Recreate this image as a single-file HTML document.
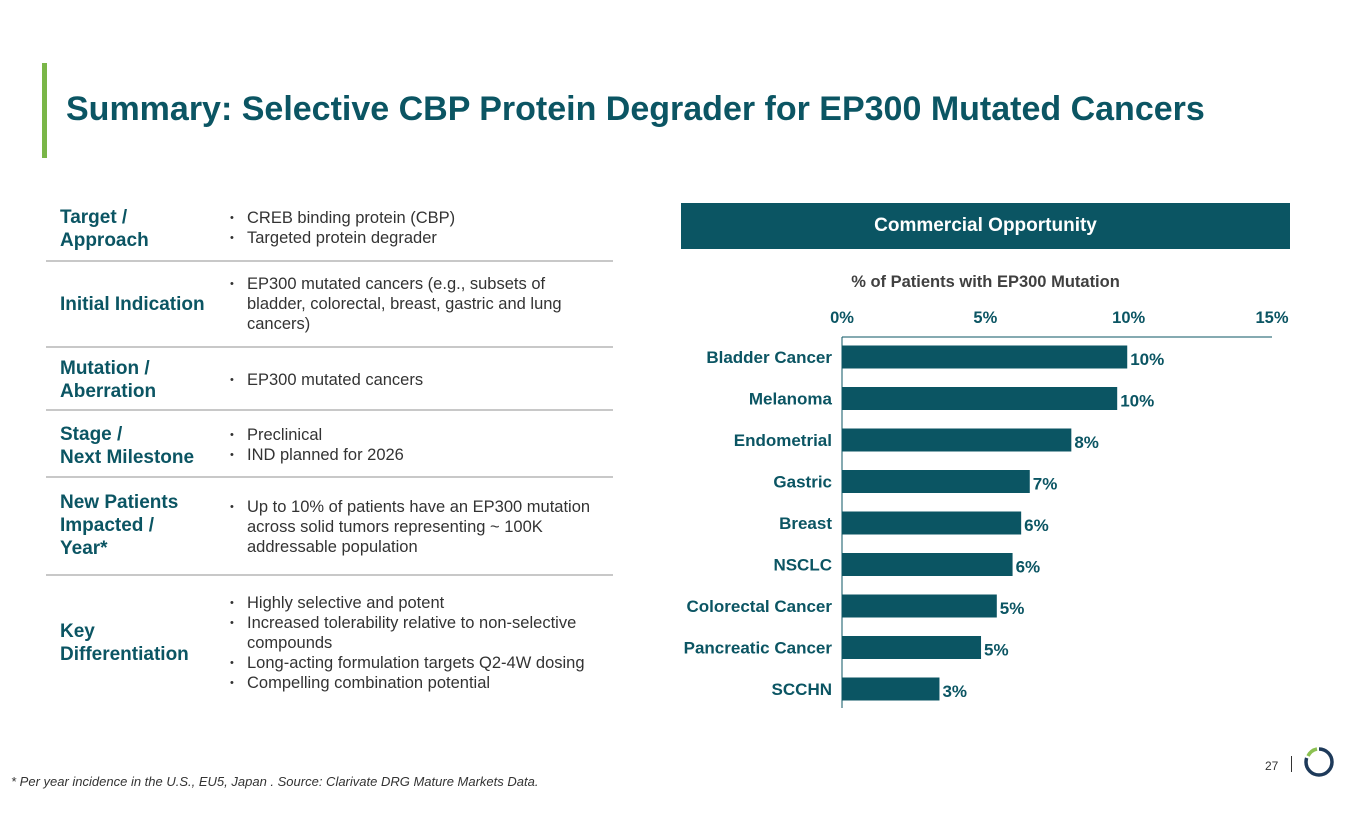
<!DOCTYPE html>
<html><head><meta charset="utf-8"><style>
body{margin:0;width:1365px;height:829px;background:#fff;font-family:"Liberation Sans",Arial,sans-serif;position:relative;overflow:hidden}
.abs{position:absolute}
.title{left:66px;top:90px;font-size:34px;font-weight:bold;color:#0b5563;white-space:nowrap}
.lab{color:#0b5563;font-weight:bold;font-size:19px;line-height:23px;left:60px}
.txt{color:#333;font-size:16.5px;line-height:20px;left:230px;width:375px}
.txt div{padding-left:17px;position:relative}
.txt div:before{content:"•";position:absolute;left:0;font-size:11px}
.sep{left:46px;width:567px;height:2px;background:#c8c8c8}
</style></head><body>
<div class="abs" style="left:42px;top:63px;width:5px;height:95px;background:#7ab648"></div>
<div class="abs title">Summary: Selective CBP Protein Degrader for EP300 Mutated Cancers</div>

<div class="abs lab" style="top:206px">Target /<br>Approach</div>
<div class="abs txt" style="top:208px"><div>CREB binding protein (CBP)</div><div>Targeted protein degrader</div></div>
<div class="abs sep" style="top:260px"></div>
<div class="abs lab" style="top:293px">Initial Indication</div>
<div class="abs txt" style="top:274px;width:345px"><div>EP300 mutated cancers (e.g., subsets of bladder, colorectal, breast, gastric and lung cancers)</div></div>
<div class="abs sep" style="top:346px"></div>
<div class="abs lab" style="top:357px">Mutation /<br>Aberration</div>
<div class="abs txt" style="top:370px"><div>EP300 mutated cancers</div></div>
<div class="abs sep" style="top:409px"></div>
<div class="abs lab" style="top:423px">Stage /<br>Next Milestone</div>
<div class="abs txt" style="top:425px"><div>Preclinical</div><div>IND planned for 2026</div></div>
<div class="abs sep" style="top:476px"></div>
<div class="abs lab" style="top:491px">New Patients<br>Impacted /<br>Year*</div>
<div class="abs txt" style="top:497px"><div>Up to 10% of patients have an EP300 mutation across solid tumors representing ~ 100K addressable population</div></div>
<div class="abs sep" style="top:574px"></div>
<div class="abs lab" style="top:620px">Key<br>Differentiation</div>
<div class="abs txt" style="top:593px;width:365px"><div>Highly selective and potent</div><div>Increased tolerability relative to non-selective compounds</div><div>Long-acting formulation targets Q2-4W dosing</div><div>Compelling combination potential</div></div>

<div class="abs" style="left:681px;top:203px;width:609px;height:46px;background:#0b5563;color:#fff;font-weight:bold;font-size:19px;text-align:center;line-height:46px">Commercial Opportunity</div>
<div class="abs" style="left:681px;width:609px;top:273px;text-align:center;font-weight:bold;font-size:16.5px;color:#404040">% of Patients with EP300 Mutation</div>

<svg class="abs" style="left:0;top:0" width="1365" height="829" id="chart"></svg>

<div class="abs" style="left:11px;top:774px;font-size:13px;font-style:italic;color:#333">* Per year incidence in the U.S., EU5, Japan . Source: Clarivate DRG Mature Markets Data.</div>
<div class="abs" style="left:1265px;top:759px;font-size:12px;color:#333">27</div>
<div class="abs" style="left:1291px;top:756px;width:1px;height:16px;background:#333"></div>
<svg class="abs" style="left:1302px;top:745px" width="34" height="34">
<circle cx="17" cy="17" r="13" fill="none" stroke="#1e3a5a" stroke-width="3.5" stroke-dasharray="65 100" transform="rotate(-90 17 17)"/>
<path d="M6 11 A13 13 0 0 1 15 4" fill="none" stroke="#8cc152" stroke-width="3.5"/>
</svg>

<script>
const categories=["Bladder Cancer","Melanoma","Endometrial","Gastric","Breast","NSCLC","Colorectal Cancer","Pancreatic Cancer","SCCHN"];
const values=[9.95,9.6,8.0,6.55,6.25,5.95,5.4,4.85,3.4];
const valueLabels=["10%","10%","8%","7%","6%","6%","5%","5%","3%"];
const ticks=[0,5,10,15];
const tickLabels=["0%","5%","10%","15%"];
const svg=document.getElementById('chart');
const NS="http://www.w3.org/2000/svg";
const x0=842,x1=1272,max=15;
const xs=v=>x0+(x1-x0)*v/max;
const yTop=337,step=41.5,barH=23;
const yc=i=>yTop+20+i*step;
function mk(t,a){const e=document.createElementNS(NS,t);for(const k in a)e.setAttribute(k,a[k]);svg.appendChild(e);return e;}
ticks.forEach((t,i)=>{const e=mk('text',{x:xs(t),y:323,'text-anchor':'middle','font-size':16.5,'font-weight':'bold',fill:'#0b5563'});e.textContent=tickLabels[i];

});
const ax=mk('line',{x1:x0,y1:yTop,x2:x1,y2:yTop,stroke:'#0b5563','stroke-width':1});


const ay=mk('line',{x1:x0,y1:yTop,x2:x0,y2:708,stroke:'#0b5563','stroke-width':1});


categories.forEach((c,i)=>{
const r=mk('rect',{x:x0,y:yc(i)-barH/2,width:xs(values[i])-x0,height:barH,fill:'#0b5563'});


const l=mk('text',{x:x0-10,y:yc(i)+6,'text-anchor':'end','font-size':17,'font-weight':'bold',fill:'#0b5563'});l.textContent=c;


const v=mk('text',{x:xs(values[i])+3,y:yc(i)+8,'font-size':17,'font-weight':'bold',fill:'#0b5563'});v.textContent=valueLabels[i];


});
</script>
</body></html>
